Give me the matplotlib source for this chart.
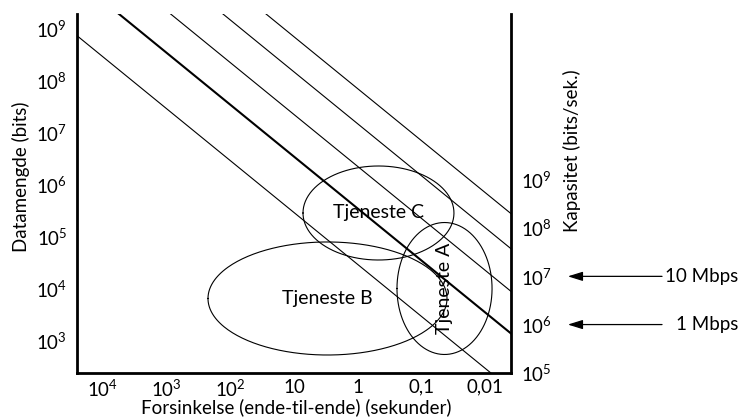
import numpy as np
import matplotlib
matplotlib.use('Agg')
from matplotlib import pyplot as plt
from matplotlib.ticker import NullLocator

plt.rcParams['font.family'] = ['Lato', 'DejaVu Sans']
plt.rcParams['mathtext.fontset'] = 'custom'
plt.rcParams['mathtext.rm'] = 'Lato'
plt.rcParams['mathtext.it'] = 'Lato:italic'
plt.rcParams['mathtext.bf'] = 'Lato:bold'

# axis ticks
delay_ticks = [1e4, 1e3, 1e2, 10, 1, 0.1, 0.01]
delay_labels = ['$10^{4}$', '$10^{3}$', '$10^{2}$', '10', '1', '0,1', '0,01']
data_ticks = [1e3, 1e4, 1e5, 1e6, 1e7, 1e8, 1e9]
data_labels = ['$10^{%d}$' % n for n in range(3, 10)]
cap_ticks = [1e5, 1e6, 1e7, 1e8, 1e9]
cap_labels = ['$10^{%d}$' % n for n in range(5, 10)]

# capacity lines: data = capacity * delay
line_caps = [10**4.465, 10**5.54, 10**6.35, 10**7.17, 10**7.845]
line_widths = [0.8, 1.5, 0.8, 0.8, 0.8]

# services: log10 centre (delay, data) and half-span in decades
services = ['Tjeneste A', 'Tjeneste B', 'Tjeneste C']
svc_delay = [-1.359, 0.475, -0.324]
svc_data = [4.004, 3.812, 5.456]
svc_wdelay = [0.745, 1.873, 1.183]
svc_wdata = [1.269, 1.087, 0.904]
svc_rot = [90, 0, 0]

# marked link speeds
speeds = [1e7, 1e6]
speed_labels = ['10 Mbps', '1 Mbps']

fs = 13.5

fig = plt.figure(figsize=(7.39, 4.19), dpi=100)
ax = fig.add_axes([77/739, 1 - 373/419, 434/739, 359/419])
ax.set_xscale('log')
ax.set_yscale('log')
ax.set_xlim(10**4.401, 10**-2.401)
ax.set_ylim(10**2.379, 10**9.283)

d = np.array([10**4.6, 10**-2.6])
for c, lw in zip(line_caps, line_widths):
    ax.plot(d, c * d, color='black', lw=lw)

t = np.linspace(0, 2 * np.pi, 300)
for name, cx, cy, wx, wy, rot in zip(services, svc_delay, svc_data, svc_wdelay, svc_wdata, svc_rot):
    ax.plot(10**(cx + wx * np.cos(t)), 10**(cy + wy * np.sin(t)), color='black', lw=0.8)
    ax.text(10**cx, 10**cy, name, rotation=rot, ha='center', va='center', fontsize=14)

ax.set_xticks(delay_ticks, delay_labels)
ax.set_yticks(data_ticks, data_labels)
ax.xaxis.set_minor_locator(NullLocator())
ax.yaxis.set_minor_locator(NullLocator())
ax.tick_params(axis='x', length=0, pad=4, labelsize=fs)
ax.tick_params(axis='y', length=0, pad=7, labelsize=fs)
for s in ['top', 'right']:
    ax.spines[s].set_visible(False)
for s in ['left', 'bottom']:
    ax.spines[s].set_linewidth(2)

ax.set_xlabel('Forsinkelse (ende-til-ende) (sekunder)', fontsize=fs, va='center')
ax.xaxis.set_label_coords(0.506, -0.095)
ax.set_ylabel('Datamengde (bits)', fontsize=fs, va='center')
ax.yaxis.set_label_coords(-0.129, 0.546)

ax2 = ax.twinx()
ax2.set_yscale('log')
ax2.set_ylim(10**4.995, 10**(4.995 + 359/48.2))
ax2.set_yticks(cap_ticks, cap_labels)
ax2.yaxis.set_minor_locator(NullLocator())
ax2.tick_params(axis='y', length=0, pad=7, labelsize=fs)
for s in ['top', 'left', 'bottom']:
    ax2.spines[s].set_visible(False)
ax2.spines['right'].set_linewidth(2)
ax2.set_ylabel('Kapasitet (bits/sek.)', fontsize=fs, va='center', rotation=90)
ax2.yaxis.set_label_coords(1.1406, 0.618)

for v, lab in zip(speeds, speed_labels):
    ax2.annotate('', xy=(1.131, v), xytext=(1.348, v),
                 xycoords=('axes fraction', 'data'), textcoords=('axes fraction', 'data'),
                 arrowprops=dict(arrowstyle='-|>,head_length=0.9,head_width=0.28',
                                 color='black', lw=0.9, shrinkA=0, shrinkB=0),
                 annotation_clip=False)
    ax2.text(1.523, v, lab, transform=ax2.get_yaxis_transform(), ha='right', va='center',
             fontsize=fs)

plt.savefig('out.png', dpi=100)
